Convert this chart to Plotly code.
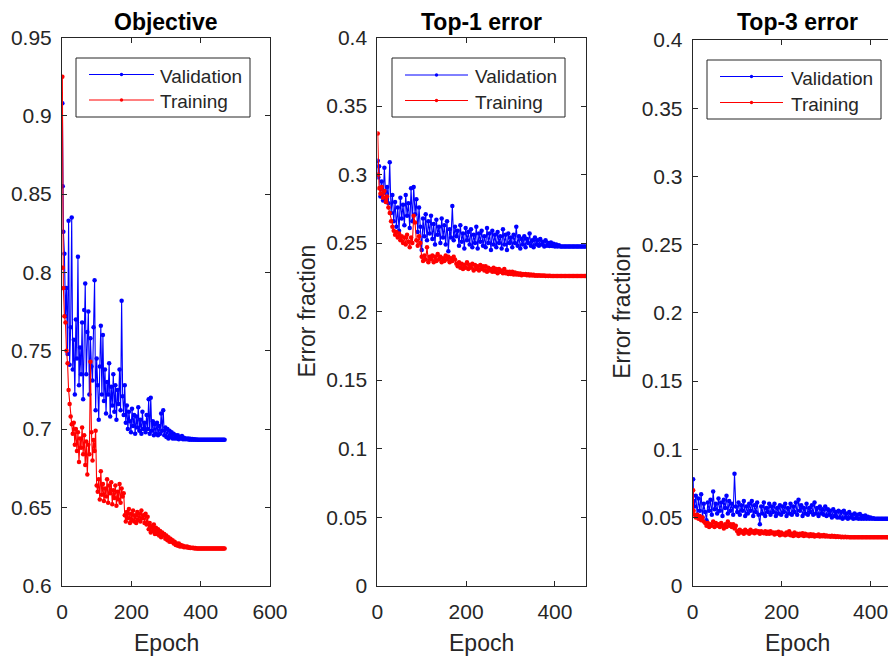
import plotly.graph_objects as go

W, H = 896, 659

# ---------------- data ----------------
EPOCHS = [1, 2] + list(range(4, 471, 3))

OBJ_VAL = (
    [0.908, 0.855, 0.826, 0.812, 0.772, 0.790, 0.748, 0.833, 0.741, 0.765, 0.835]
    + [0.738, 0.757, 0.722, 0.770, 0.745, 0.810, 0.728, 0.752, 0.735, 0.768]
    + [0.719, 0.776, 0.793, 0.735, 0.762, 0.775, 0.722, 0.758, 0.740, 0.731]
    + [0.765, 0.795, 0.712, 0.745, 0.728, 0.706, 0.740, 0.766, 0.722, 0.760]
    + [0.718, 0.738, 0.710, 0.730, 0.722, 0.742, 0.708, 0.727, 0.715, 0.735]
    + [0.711, 0.728, 0.706, 0.725, 0.716, 0.738, 0.712, 0.782, 0.721, 0.709]
    + [0.728, 0.704, 0.715, 0.700, 0.711, 0.705, 0.698, 0.713, 0.702, 0.709]
    + [0.697, 0.708, 0.701, 0.714, 0.699, 0.706, 0.697, 0.711, 0.700, 0.704]
    + [0.698, 0.709, 0.700, 0.719, 0.697, 0.720, 0.699, 0.705, 0.696, 0.703]
    + [0.697, 0.704, 0.696, 0.702, 0.697, 0.710, 0.699, 0.712, 0.696, 0.701]
    + [0.695, 0.700, 0.694, 0.699, 0.695, 0.698, 0.694, 0.697, 0.694, 0.696]
    + [0.694, 0.696, 0.6935, 0.695, 0.694, 0.6955, 0.6935, 0.6945, 0.6935, 0.694]
    + [0.6935, 0.694, 0.6932, 0.6938, 0.6932, 0.6936, 0.6932, 0.6935, 0.6932, 0.6933]
    + [0.6932] * 10
    + [0.6932] * 10
    + [0.6932] * 7
)

OBJ_TRN = (
    [0.925, 0.803, 0.790, 0.772, 0.768, 0.750, 0.742, 0.725, 0.716, 0.708, 0.703]
    + [0.697, 0.704, 0.690, 0.700, 0.686, 0.698, 0.679, 0.694, 0.688, 0.701]
    + [0.684, 0.696, 0.677, 0.692, 0.671, 0.690, 0.684, 0.743, 0.698, 0.680]
    + [0.693, 0.686, 0.699, 0.664, 0.660, 0.668, 0.655, 0.673, 0.658, 0.665]
    + [0.654, 0.662, 0.657, 0.668, 0.653, 0.664, 0.659, 0.666, 0.652, 0.661]
    + [0.656, 0.664, 0.651, 0.660, 0.655, 0.665, 0.653, 0.662, 0.657, 0.659]
    + [0.645, 0.641, 0.647, 0.643, 0.649, 0.640, 0.646, 0.642, 0.648, 0.641]
    + [0.645, 0.640, 0.647, 0.642, 0.646, 0.641, 0.648, 0.643, 0.645, 0.640]
    + [0.646, 0.639, 0.644, 0.636, 0.640, 0.634, 0.638, 0.635, 0.639, 0.633]
    + [0.637, 0.633, 0.636, 0.632, 0.635, 0.631, 0.634, 0.632, 0.633, 0.630]
    + [0.632, 0.629, 0.631, 0.628, 0.630, 0.628, 0.629, 0.627, 0.628, 0.626]
    + [0.627, 0.6255, 0.627, 0.625, 0.626, 0.625, 0.6255, 0.6245, 0.625, 0.6245]
    + [0.625, 0.6242, 0.6245, 0.624, 0.6243, 0.624, 0.6242, 0.6238, 0.624, 0.6238]
    + [0.6238] * 10
    + [0.6238] * 10
    + [0.6238] * 7
)

TOP1_VAL = (
    [0.310, 0.298, 0.306, 0.284, 0.295, 0.281, 0.305, 0.283, 0.291, 0.279, 0.309]
    + [0.272, 0.285, 0.266, 0.280, 0.262, 0.276, 0.259, 0.283, 0.268, 0.278]
    + [0.263, 0.285, 0.270, 0.279, 0.261, 0.290, 0.266, 0.291, 0.271, 0.282]
    + [0.258, 0.276, 0.262, 0.245, 0.268, 0.255, 0.271, 0.252, 0.266, 0.257]
    + [0.270, 0.253, 0.264, 0.249, 0.267, 0.256, 0.262, 0.250, 0.268, 0.254]
    + [0.263, 0.249, 0.266, 0.244, 0.260, 0.254, 0.277, 0.252, 0.262, 0.255]
    + [0.259, 0.248, 0.263, 0.251, 0.257, 0.246, 0.261, 0.252, 0.258, 0.249]
    + [0.260, 0.247, 0.256, 0.250, 0.262, 0.246, 0.257, 0.251, 0.259, 0.248]
    + [0.255, 0.247, 0.261, 0.250, 0.257, 0.245, 0.259, 0.249, 0.256, 0.247]
    + [0.258, 0.250, 0.255, 0.246, 0.260, 0.249, 0.256, 0.245, 0.257, 0.250]
    + [0.254, 0.247, 0.256, 0.250, 0.262, 0.248, 0.255, 0.246, 0.253, 0.249]
    + [0.255, 0.247, 0.253, 0.250, 0.257, 0.248, 0.252, 0.247, 0.254, 0.249]
    + [0.252, 0.248, 0.253, 0.249, 0.251, 0.2475, 0.252, 0.248, 0.250, 0.2478]
    + [0.2505, 0.2478, 0.2495, 0.2475, 0.249, 0.2475, 0.2485, 0.2475, 0.2475, 0.2475]
    + [0.2475] * 10
    + [0.2475] * 7
)

TOP1_TRN = (
    [0.330, 0.300, 0.290, 0.286, 0.291, 0.283, 0.288, 0.280, 0.284, 0.276, 0.272]
    + [0.266, 0.262, 0.259, 0.256, 0.258, 0.254, 0.257, 0.252, 0.255, 0.250]
    + [0.254, 0.249, 0.256, 0.251, 0.247, 0.254, 0.250, 0.270, 0.265, 0.252]
    + [0.248, 0.255, 0.250, 0.240, 0.237, 0.241, 0.238, 0.247, 0.236, 0.240]
    + [0.238, 0.241, 0.236, 0.240, 0.237, 0.242, 0.238, 0.240, 0.236, 0.239]
    + [0.237, 0.241, 0.238, 0.240, 0.236, 0.239, 0.237, 0.240, 0.238, 0.235]
    + [0.233, 0.236, 0.232, 0.235, 0.231, 0.234, 0.232, 0.236, 0.231, 0.234]
    + [0.232, 0.235, 0.230, 0.234, 0.231, 0.233, 0.230, 0.234, 0.231, 0.233]
    + [0.230, 0.233, 0.229, 0.232, 0.230, 0.231, 0.229, 0.232, 0.229, 0.231]
    + [0.228, 0.231, 0.229, 0.230, 0.228, 0.231, 0.228, 0.229, 0.2275, 0.229]
    + [0.2275, 0.229, 0.227, 0.2285, 0.227, 0.228, 0.2268, 0.2278, 0.2265, 0.2275]
    + [0.2268, 0.2275, 0.2265, 0.2272, 0.2264, 0.227, 0.2263, 0.2268, 0.2262, 0.2266]
    + [0.2262, 0.2265, 0.2261, 0.2264, 0.2261, 0.2263, 0.226, 0.2262, 0.226, 0.2261]
    + [0.226] * 10
    + [0.226] * 10
    + [0.226] * 7
)

TOP3_VAL = (
    [0.078, 0.062, 0.058, 0.066, 0.052, 0.064, 0.055, 0.067, 0.050, 0.060, 0.054]
    + [0.048, 0.061, 0.055, 0.063, 0.052, 0.069, 0.056, 0.060, 0.053, 0.064]
    + [0.055, 0.061, 0.051, 0.063, 0.057, 0.066, 0.053, 0.062, 0.055, 0.060]
    + [0.052, 0.082, 0.058, 0.054, 0.061, 0.052, 0.059, 0.055, 0.062, 0.051]
    + [0.058, 0.053, 0.060, 0.055, 0.062, 0.051, 0.059, 0.054, 0.061, 0.052]
    + [0.045, 0.058, 0.053, 0.061, 0.051, 0.057, 0.054, 0.060, 0.052, 0.058]
    + [0.054, 0.060, 0.051, 0.057, 0.053, 0.059, 0.052, 0.058, 0.054, 0.060]
    + [0.051, 0.057, 0.053, 0.060, 0.052, 0.058, 0.054, 0.061, 0.052, 0.063]
    + [0.055, 0.059, 0.051, 0.057, 0.053, 0.060, 0.052, 0.057, 0.054, 0.059]
    + [0.052, 0.061, 0.053, 0.057, 0.051, 0.058, 0.053, 0.056, 0.052, 0.058]
    + [0.051, 0.056, 0.052, 0.055, 0.050, 0.056, 0.051, 0.054, 0.050, 0.055]
    + [0.050, 0.054, 0.049, 0.055, 0.050, 0.053, 0.049, 0.054, 0.050, 0.052]
    + [0.049, 0.053, 0.0495, 0.052, 0.049, 0.0525, 0.049, 0.051, 0.049, 0.0515]
    + [0.049, 0.0505, 0.049, 0.050, 0.049, 0.0495, 0.049, 0.049, 0.049, 0.049]
    + [0.049] * 10
    + [0.049] * 7
)

TOP3_TRN = (
    [0.070, 0.055, 0.052, 0.050, 0.052, 0.049, 0.051, 0.048, 0.050, 0.047, 0.046]
    + [0.044, 0.046, 0.043, 0.045, 0.044, 0.047, 0.043, 0.046, 0.044, 0.045]
    + [0.043, 0.046, 0.044, 0.042, 0.045, 0.043, 0.047, 0.044, 0.045, 0.043]
    + [0.045, 0.042, 0.044, 0.040, 0.038, 0.041, 0.039, 0.040, 0.038, 0.041]
    + [0.039, 0.040, 0.038, 0.041, 0.039, 0.040, 0.0385, 0.0405, 0.039, 0.040]
    + [0.038, 0.040, 0.039, 0.0385, 0.040, 0.038, 0.0395, 0.038, 0.040, 0.0385]
    + [0.039, 0.0375, 0.039, 0.038, 0.0395, 0.037, 0.039, 0.0375, 0.038, 0.037]
    + [0.039, 0.0375, 0.040, 0.037, 0.038, 0.0365, 0.039, 0.037, 0.038, 0.0365]
    + [0.038, 0.037, 0.0385, 0.0365, 0.038, 0.0368, 0.0375, 0.0362, 0.0378, 0.0365]
    + [0.0375, 0.036, 0.037, 0.0365, 0.0375, 0.036, 0.037, 0.0362, 0.0372, 0.036]
    + [0.0368, 0.036, 0.0365, 0.0358, 0.0366, 0.0358, 0.0364, 0.0357, 0.0362, 0.0357]
    + [0.036, 0.0356, 0.0359, 0.0355, 0.0358, 0.0355, 0.0357, 0.0355, 0.0356, 0.0355]
    + [0.0355] * 10
    + [0.0355] * 10
    + [0.0355] * 10
    + [0.0355] * 7
)

TITLES = ["Objective", "Top-1 error", "Top-3 error"]
LEGEND_NAMES = ["Validation", "Training"]
X_LABEL = "Epoch"
Y_LABEL = "Error fraction"

OBJ_YTICKS = [0.6, 0.65, 0.7, 0.75, 0.8, 0.85, 0.9, 0.95]
OBJ_YTEXT = ["0.6", "0.65", "0.7", "0.75", "0.8", "0.85", "0.9", "0.95"]
ERR_YTICKS = [0, 0.05, 0.1, 0.15, 0.2, 0.25, 0.3, 0.35, 0.4]
ERR_YTEXT = ["0", "0.05", "0.1", "0.15", "0.2", "0.25", "0.3", "0.35", "0.4"]
OBJ_XTICKS = [0, 200, 400, 600]
ERR_XTICKS = [0, 200, 400]

# ---------------- layout geometry (screen pixels) ----------------
# the page puts the figure 8px in from the top-left corner; compensate
OX, OY = 8, 8
BOXES = [(62, 270, 37.5, 585.7), (377.3, 586, 37.5, 585.7), (692.7, 901.7, 40, 585.7)]
XRANGES = [[0, 600], [0, 470], [0, 470]]
YRANGES = [[0.6, 0.95], [0, 0.4], [0, 0.4]]

AX = "#262626"
FONT = "Liberation Sans, Arial, Helvetica, sans-serif"
BLUE = "#0000ff"
RED = "#ff0000"


def px(x):
    return (x - OX) / W


def py(y):
    return 1 - (y - OY) / H


fig = go.Figure()
series = [(OBJ_VAL, OBJ_TRN), (TOP1_VAL, TOP1_TRN), (TOP3_VAL, TOP3_TRN)]
for i, (val, trn) in enumerate(series):
    n = "" if i == 0 else str(i + 1)
    for ys, col, name in ((val, BLUE, LEGEND_NAMES[0]), (trn, RED, LEGEND_NAMES[1])):
        m = min(len(EPOCHS), len(ys))
        fig.add_trace(go.Scatter(
            x=EPOCHS[:m], y=ys[:m], mode="lines+markers", name=name,
            line=dict(color=col, width=1.1),
            marker=dict(color=col, size=4.5),
            xaxis="x" + n, yaxis="y" + n, showlegend=False))

layout = dict(
    template="none",
    width=W, height=H, autosize=False,
    margin=dict(l=0, r=0, t=0, b=0, pad=0, autoexpand=False),
    paper_bgcolor="white", plot_bgcolor="white",
    font=dict(family=FONT, color=AX, size=21),
    showlegend=False,
)

annotations = []
shapes = []
for i in range(3):
    n = "" if i == 0 else str(i + 1)
    l, r, t, b = BOXES[i]
    xa = dict(domain=[px(l), min(1, px(r))], range=XRANGES[i],
              tickvals=OBJ_XTICKS if i == 0 else ERR_XTICKS,
              ticks="inside", ticklen=5, tickcolor=AX, tickwidth=1,
              ticklabelstandoff=7,
              showline=True, linecolor=AX, linewidth=1, mirror="ticks",
              showgrid=False, zeroline=False, anchor="y" + n, automargin=False,
              tickfont=dict(size=21, color=AX, family=FONT))
    ya = dict(domain=[py(b), py(t)], range=YRANGES[i],
              tickvals=OBJ_YTICKS if i == 0 else ERR_YTICKS,
              ticktext=OBJ_YTEXT if i == 0 else ERR_YTEXT,
              ticks="inside", ticklen=5, tickcolor=AX, tickwidth=1,
              ticklabelstandoff=5,
              showline=True, linecolor=AX, linewidth=1, mirror="ticks",
              showgrid=False, zeroline=False, anchor="x" + n, automargin=False,
              tickfont=dict(size=21, color=AX, family=FONT))
    layout["xaxis" + n] = xa
    layout["yaxis" + n] = ya

    cx = (l + r) / 2
    annotations.append(dict(text="<b>%s</b>" % TITLES[i], x=px(cx), y=py(8),
                            xref="paper", yref="paper", showarrow=False,
                            xanchor="center", yanchor="top", borderpad=0,
                            font=dict(size=23, color="#000000", family=FONT)))
    annotations.append(dict(text=X_LABEL, x=px(cx), y=py(643),
                            xref="paper", yref="paper", showarrow=False,
                            xanchor="center", yanchor="middle",
                            font=dict(size=23, color=AX, family=FONT)))
    if i > 0:
        ylx = 307 if i == 1 else 622
        annotations.append(dict(text=Y_LABEL, x=px(ylx), y=py((t + b) / 2),
                                xref="paper", yref="paper", showarrow=False,
                                textangle=-90, xanchor="center", yanchor="middle",
                                font=dict(size=23, color=AX, family=FONT)))

# legends drawn as boxes: (rect l, r, t, b, line x0, x1, y_val, y_trn, text x)
LEG = [(76, 250, 58, 117, 89, 154, 74.5, 100, 158),
       (392, 565, 58, 117, 405, 468, 75, 100.5, 473),
       (707, 881, 60, 119, 720, 783, 76.5, 102.5, 789)]
for (l, r, t, b, x0, x1, yv, yt, tx) in LEG:
    shapes.append(dict(type="rect", xref="paper", yref="paper",
                       x0=px(l), x1=px(r), y0=py(b), y1=py(t),
                       line=dict(color=AX, width=1), fillcolor="white", layer="above"))
    for yy, col, name in ((yv, BLUE, LEGEND_NAMES[0]), (yt, RED, LEGEND_NAMES[1])):
        shapes.append(dict(type="line", xref="paper", yref="paper",
                           x0=px(x0), x1=px(x1), y0=py(yy), y1=py(yy),
                           line=dict(color=col, width=1), layer="above"))
        mx = (x0 + x1) / 2
        shapes.append(dict(type="circle", xref="paper", yref="paper",
                           x0=px(mx - 1.7), x1=px(mx + 1.7), y0=py(yy + 1.7), y1=py(yy - 1.7),
                           line=dict(color=col, width=0), fillcolor=col, layer="above"))
        annotations.append(dict(text=name, x=px(tx), y=py(yy + 1.5),
                                xref="paper", yref="paper", showarrow=False,
                                xanchor="left", yanchor="middle",
                                font=dict(size=19, color=AX, family=FONT)))

layout["annotations"] = annotations
layout["shapes"] = shapes
fig.update_layout(**layout)
fig.write_html("out.html")
